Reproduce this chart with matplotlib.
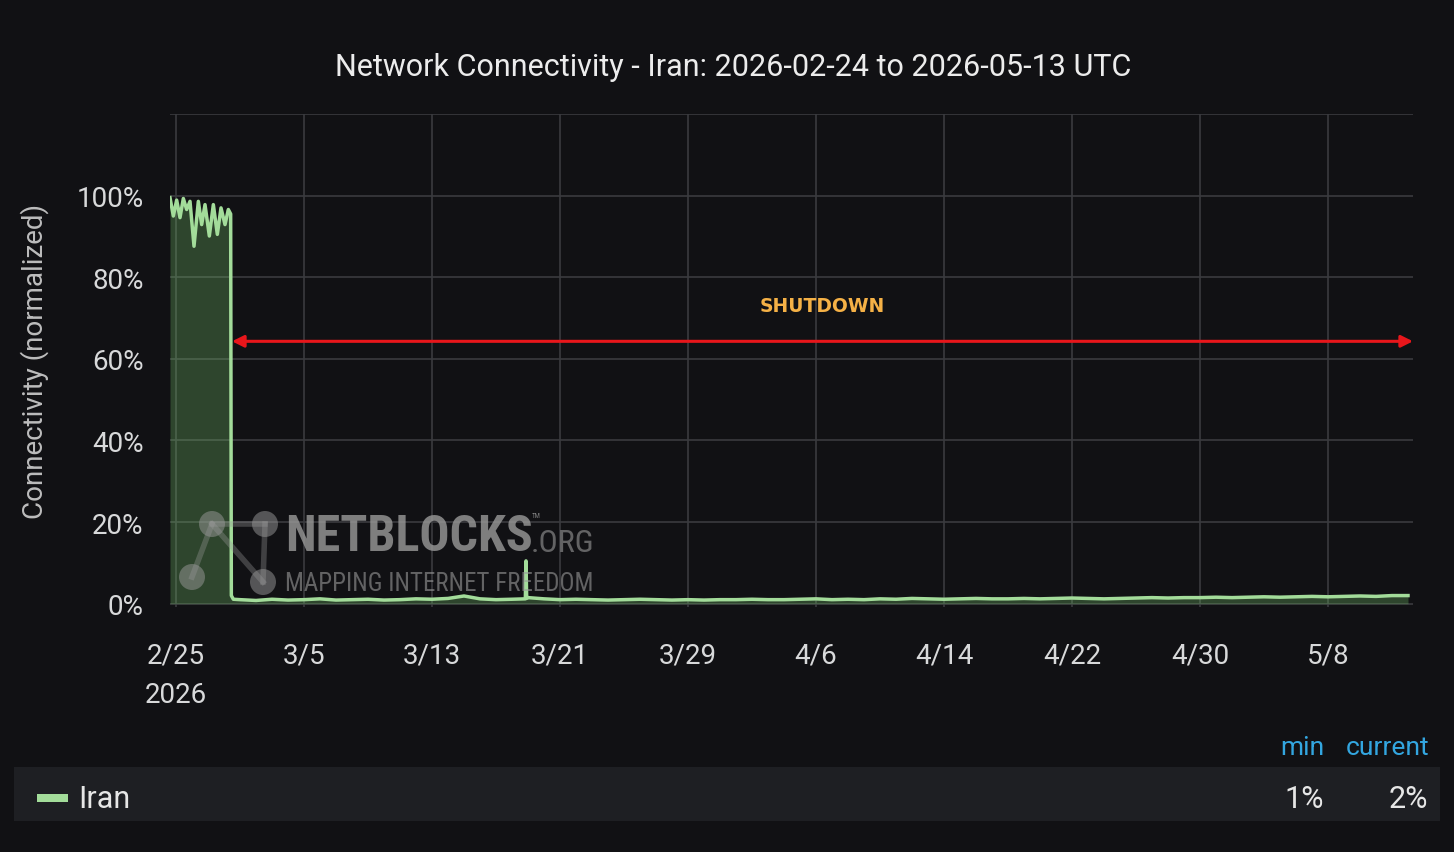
import matplotlib
matplotlib.use('Agg')
import matplotlib.pyplot as plt
from matplotlib import font_manager
from matplotlib.patches import Circle, Rectangle
import pandas as pd

# ---- data (% of normal connectivity) ----
early_times=['2026-02-24 15:00','2026-02-24 20:00','2026-02-25 01:00','2026-02-25 06:00',
             '2026-02-25 11:00','2026-02-25 16:00','2026-02-25 21:00','2026-02-26 03:00',
             '2026-02-26 09:30','2026-02-26 14:30','2026-02-26 19:30','2026-02-27 02:00',
             '2026-02-27 08:00','2026-02-27 14:00','2026-02-27 19:30','2026-02-28 01:30',
             '2026-02-28 06:30','2026-02-28 10:00','2026-02-28 11:00','2026-02-28 14:00']
early_vals=[99.5,95.0,98.9,94.6,99.3,96.6,98.6,87.6,98.6,92.9,97.8,90.1,97.8,90.5,97.0,92.9,96.6,95.5,2.0,1.1]

spike_times=['2026-03-18 20:00','2026-03-18 21:00','2026-03-18 22:00']
spike_vals=[1.2,10.5,1.3]

tail_start='2026-03-01'
tail_vals=[1.0,0.8,1.1,0.9,1.0,1.2,0.9,1.0,1.1,0.9,1.0,1.2,1.1,1.3,1.9,1.2,1.0,1.1,1.5,1.2,
           1.0,1.1,1.0,0.9,1.0,1.1,1.0,0.9,1.0,0.9,1.0,
           1.0,1.1,1.0,1.0,1.1,1.2,1.0,1.1,1.0,1.2,1.1,1.3,1.2,1.1,1.2,1.3,1.2,1.2,1.3,1.2,
           1.3,1.4,1.3,1.2,1.3,1.4,1.5,1.4,1.5,1.5,
           1.6,1.5,1.6,1.7,1.6,1.7,1.8,1.7,1.8,1.9,1.8,2.0,2.0]

tick_dates=['2026-02-25','2026-03-05','2026-03-13','2026-03-21','2026-03-29','2026-04-06',
            '2026-04-14','2026-04-22','2026-04-30','2026-05-08']
tick_labels=['2/25\n2026','3/5','3/13','3/21','3/29','4/6','4/14','4/22','4/30','5/8']
y_ticks=[0,20,40,60,80,100,120]
y_labels=['0%','20%','40%','60%','80%','100%','']

shutdown_from='2026-02-28 12:00'
shutdown_to='2026-05-13 07:30'
shutdown_level=64.3
legend_min='1%'
legend_cur='2%'

# ---- styling ----
BG='#111114'
GRID='#3a3b3f'
LINE='#a3dc9a'
FILL='#73bf69'
TXT='#d8d9da'

def narrow_family():
    names={f.name for f in font_manager.fontManager.ttflist}
    for n in ['Liberation Sans Narrow','Roboto Condensed','DejaVu Sans']:
        if n in names: return n
    return 'DejaVu Sans'

series=pd.concat([
    pd.Series(early_vals,index=pd.to_datetime(early_times)),
    pd.Series(spike_vals,index=pd.to_datetime(spike_times)),
    pd.Series(tail_vals,index=pd.date_range(tail_start,periods=len(tail_vals),freq='D')),
]).sort_index()

plt.rcParams['font.family']=['Roboto','DejaVu Sans']
fig=plt.figure(figsize=(14.54,8.53),dpi=100,facecolor=BG)
ax=fig.add_axes([170/1454,1-608/853,(1413-170)/1454,(608-115)/853])
ax.set_facecolor(BG)

ax.fill_between(series.index,0,series.values,color=FILL,alpha=0.3,lw=0,zorder=2)
ax.plot(series.index,series.values,color=LINE,lw=2.5,zorder=3)

ax.set_xlim(pd.Timestamp('2026-02-24 15:00'),pd.Timestamp(shutdown_to))
ax.set_ylim(-0.8,120)
ax.set_xticks(pd.to_datetime(tick_dates))
ax.set_xticklabels(tick_labels,color=TXT,fontsize=20,linespacing=1.6)
ax.set_yticks(y_ticks)
ax.set_yticklabels(y_labels,color=TXT,fontsize=20)
ax.tick_params(axis='both',length=0)
ax.tick_params(axis='y',pad=19)
ax.tick_params(axis='x',pad=25)
ax.grid(True,color=GRID,lw=1.2,zorder=0)
for s in ax.spines.values(): s.set_visible(False)

# shutdown arrow
ax.annotate('',xy=(pd.Timestamp(shutdown_to),shutdown_level),
            xytext=(pd.Timestamp(shutdown_from),shutdown_level),
            arrowprops=dict(arrowstyle='<|-|>,head_length=0.7,head_width=0.35',
                            color='#e8161b',lw=2.2,shrinkA=0,shrinkB=0),zorder=4)
ax.text(pd.Timestamp('2026-04-06 10:00'),73,'SHUTDOWN',color='#f5b146',fontsize=13.5,
        fontweight='bold',ha='center',va='center',family=['DejaVu Sans'],zorder=4)

# watermark
wm='#9a9a9a'
nodes=[(2.12,8.53-5.25),(2.65,8.53-5.25),(1.92,8.53-5.78),(2.63,8.53-5.83)]
for a,b in [(0,1),(0,2),(0,3),(1,3)]:
    fig.add_artist(plt.Line2D([nodes[a][0],nodes[b][0]],[nodes[a][1],nodes[b][1]],
                              transform=fig.dpi_scale_trans,color=wm,lw=4,alpha=0.35))
for (cx,cy) in nodes:
    fig.add_artist(Circle((cx,cy),0.13,transform=fig.dpi_scale_trans,color=wm,alpha=0.5,lw=0))
nf=narrow_family()
fig.text(285/1454,1-538/853,'NETBLOCKS',color=wm,alpha=0.8,fontsize=36,fontweight='bold',
         family=[nf],fontstretch='condensed',ha='left',va='center')
fig.text(532/1454,1-516/853,'TM',color=wm,alpha=0.8,fontsize=5,family=[nf],ha='left',va='center')
fig.text(531/1454,1-544/853,'.ORG',color=wm,alpha=0.6,fontsize=23,family=[nf],
         fontstretch='condensed',ha='left',va='center')
fig.text(285/1454,1-584/853,'MAPPING INTERNET FREEDOM',color=wm,alpha=0.6,fontsize=18,family=[nf],
         fontstretch='condensed',ha='left',va='center')

# title and y label
fig.text(733/1454,1-67/853,'Network Connectivity - Iran: 2026-02-24 to 2026-05-13 UTC',
         color='#ececec',fontsize=22,ha='center',va='center')
fig.text(35/1454,1-361/853,'Connectivity (normalized)',color='#bdbdbd',fontsize=20,
         rotation=90,ha='center',va='center')

# legend table
fig.add_artist(Rectangle((14/1454,1-822/853),(1440-14)/1454,54/853,transform=fig.transFigure,
                         color='#1e1f23',lw=0,zorder=0))
fig.add_artist(Rectangle((37/1454,1-803/853),31/1454,8/853,transform=fig.transFigure,
                         color=LINE,lw=0))
fig.text(78/1454,1-800/853,'Iran',color='#e6e6e6',fontsize=22,ha='left',va='center')
fig.text(1302/1454,1-748/853,'min',color='#33a6e0',fontsize=19,ha='center',va='center')
fig.text(1388/1454,1-748/853,'current',color='#33a6e0',fontsize=19,ha='center',va='center')
fig.text(1324/1454,1-800/853,legend_min,color='#e6e6e6',fontsize=22,ha='right',va='center')
fig.text(1428/1454,1-800/853,legend_cur,color='#e6e6e6',fontsize=22,ha='right',va='center')

fig.savefig('out.png',dpi=100,facecolor=BG)
